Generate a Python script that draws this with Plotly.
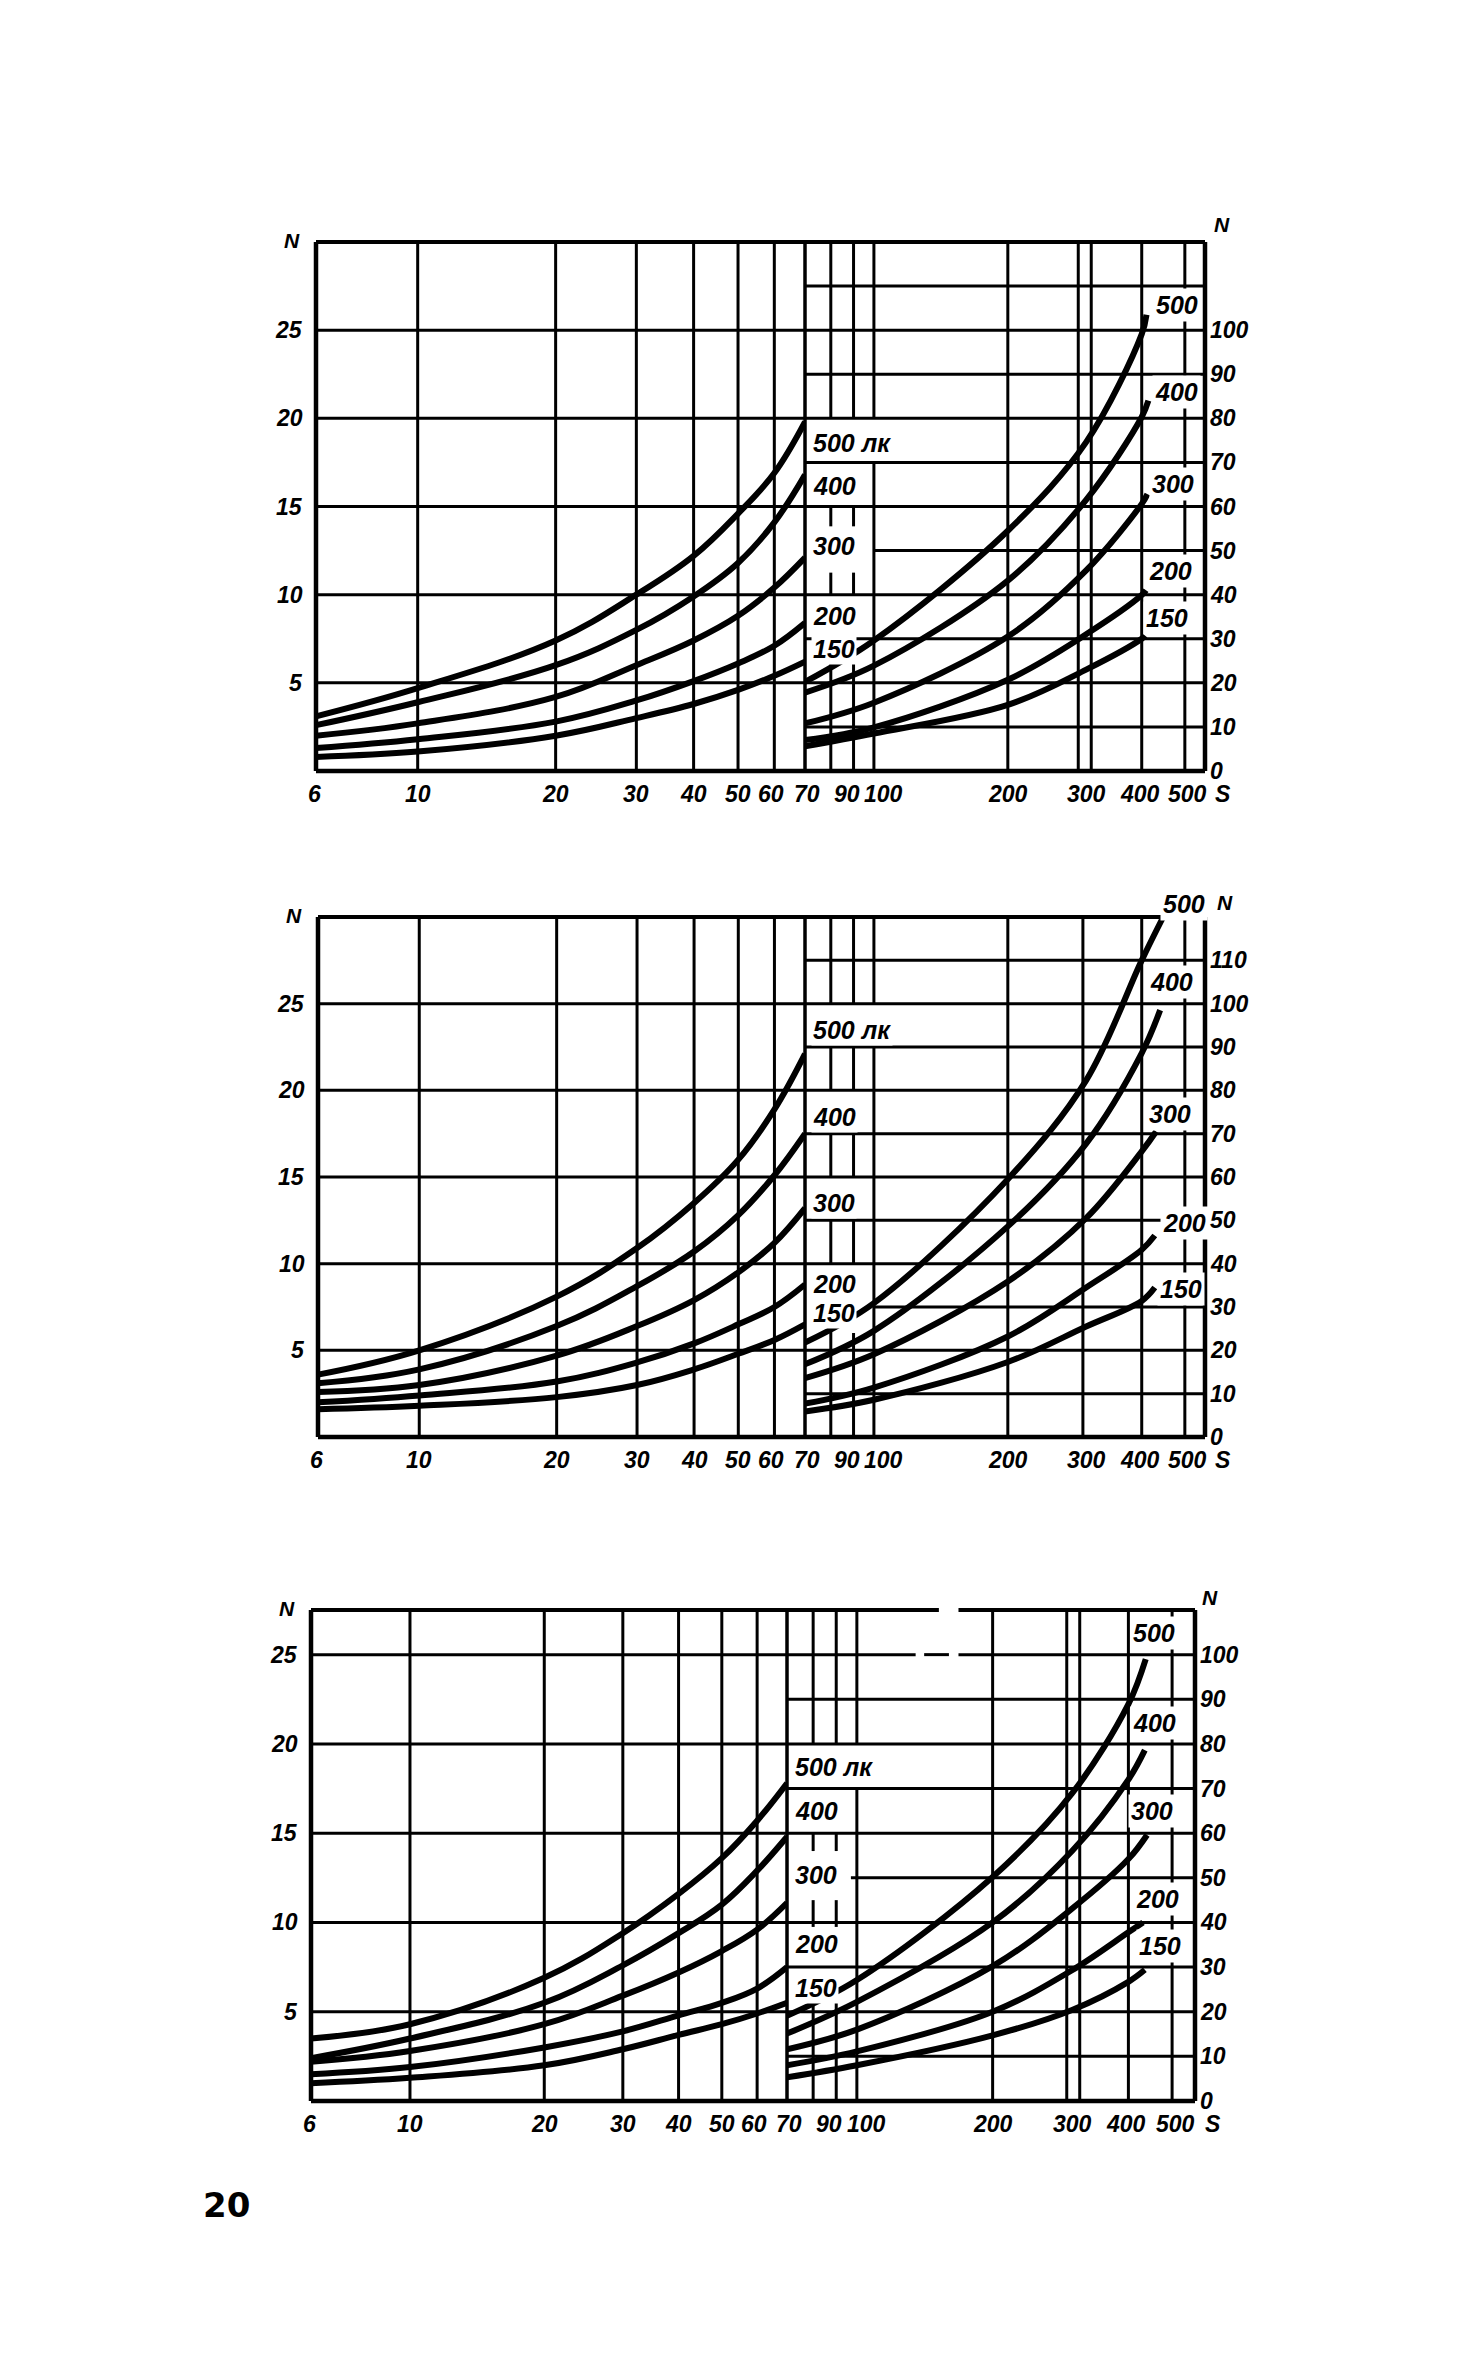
import math
import plotly.graph_objects as go

W, H = 1477, 2363
PAD = 14

# ---------------- data ----------------
LUX = [500, 400, 300, 200, 150]
S_LEFT = [6, 10, 20, 30, 40, 50, 60, 70]
S_RIGHT = [70, 100, 200, 300, 400]

# panel 1
P1_L_500 = [3.1, 4.7, 7.4, 10.0, 12.2, 14.6, 16.9, 19.8]
P1_L_400 = [2.6, 3.9, 6.0, 8.0, 9.9, 11.8, 14.1, 16.8]
P1_L_300 = [2.0, 2.7, 4.2, 6.0, 7.4, 8.8, 10.4, 12.1]
P1_L_200 = [1.3, 1.8, 2.8, 4.0, 5.1, 6.1, 7.1, 8.4]
P1_L_150 = [0.8, 1.1, 2.0, 3.0, 3.8, 4.6, 5.4, 6.2]
P1_R_500 = [20.2, 29.6, 54.5, 74.6, 99.1]
P1_R_400 = [17.8, 23.9, 43.2, 61.5, 80.3]
P1_R_300 = [10.8, 15.5, 30.5, 45.5, 60.6]
P1_R_200 = [7.0, 9.9, 20.7, 31.0, 39.9]
P1_R_150 = [5.6, 8.5, 15.0, 23.0, 30.0]
P1_END_S = [410, 414, 412, 409, 407]
P1_END_N = [103.5, 84.0, 62.8, 41.0, 30.7]

# panel 2
P2_L_500 = [3.6, 5.0, 8.1, 10.9, 13.5, 16.0, 18.9, 22.1]
P2_L_400 = [3.1, 3.9, 6.4, 8.7, 10.7, 12.8, 15.1, 17.5]
P2_L_300 = [2.6, 3.0, 4.7, 6.4, 7.9, 9.5, 11.2, 13.2]
P2_L_200 = [2.0, 2.4, 3.2, 4.3, 5.4, 6.5, 7.5, 8.8]
P2_L_150 = [1.6, 1.8, 2.3, 3.0, 3.9, 4.8, 5.6, 6.5]
P2_R_500 = [21.8, 30.9, 59.5, 82.3, 110.0]
P2_R_400 = [16.8, 24.5, 48.6, 67.7, 88.6]
P2_R_300 = [13.6, 19.1, 35.9, 50.5, 65.9]
P2_R_200 = [7.7, 11.4, 23.2, 34.5, 43.2]
P2_R_150 = [5.9, 8.6, 17.3, 25.5, 31.4]
P2_END_S = [447, 440, 431, 428, 428]
P2_END_N = [120.0, 98.5, 70.5, 46.5, 34.5]

# panel 3
P3_L_500 = [3.5, 4.3, 6.9, 9.4, 11.6, 13.6, 15.7, 17.8]
P3_L_400 = [2.4, 3.5, 5.5, 7.6, 9.4, 11.0, 12.9, 14.8]
P3_L_300 = [2.2, 2.8, 4.3, 5.9, 7.2, 8.4, 9.6, 11.1]
P3_L_200 = [1.5, 1.9, 3.0, 3.9, 4.8, 5.5, 6.3, 7.5]
P3_L_150 = [1.0, 1.3, 2.0, 2.9, 3.7, 4.3, 4.9, 5.5]
P3_R_500 = [19.1, 27.1, 50.2, 68.9, 88.9]
P3_R_400 = [15.1, 22.2, 40.0, 56.0, 72.0]
P3_R_300 = [11.6, 16.0, 30.2, 43.1, 54.2]
P3_R_200 = [8.0, 11.1, 20.0, 29.3, 37.8]
P3_R_150 = [5.3, 8.0, 14.7, 20.4, 26.7]
P3_END_S = [437, 435, 440, 431, 435]
P3_END_N = [99.0, 78.6, 59.6, 40.0, 29.4]

# tick labels
X_TICKS_LEFT = [6, 10, 20, 30, 40, 50, 60]
X_TICKS_RIGHT = [70, 90, 100, 200, 300, 400, 500]
Y_TICKS_LEFT = [5, 10, 15, 20, 25]
P1_Y_TICKS_RIGHT = [0, 10, 20, 30, 40, 50, 60, 70, 80, 90, 100]
P2_Y_TICKS_RIGHT = [0, 10, 20, 30, 40, 50, 60, 70, 80, 90, 100, 110]
P3_Y_TICKS_RIGHT = [0, 10, 20, 30, 40, 50, 60, 70, 80, 90, 100]
GRID_LEFT_X = [10, 20, 30, 40, 50, 60]
GRID_LEFT_Y = [5, 10, 15, 20, 25]
P1_GRID_RIGHT_X = [80, 90, 100, 200, 288, 308, 400, 500]
P2_GRID_RIGHT_X = [80, 90, 100, 200, 295, 400, 500]
P3_GRID_RIGHT_X = [80, 90, 100, 200, 292, 312, 400, 500]

# ---------------- layout spec (pixel geometry of each panel) ----------------
FONT = "Liberation Sans Narrow, Liberation Sans, Arial, sans-serif"
TICK_SIZE = 23
LABEL_SIZE = 25
TICK_XSHIFT = {6: -2, 60: -3, 70: 2, 90: -7, 100: 10, 400: -2, 500: 3}
LUX_WORD = "\u00a0лк"

PANELS = [
    dict(xl=308, xm=797, xr=1197, yt=234, yb=763, topL=30, smax=555,
         L=[P1_L_500, P1_L_400, P1_L_300, P1_L_200, P1_L_150],
         R=[P1_R_500, P1_R_400, P1_R_300, P1_R_200, P1_R_150],
         ES=P1_END_S, EN=P1_END_N, gridx=P1_GRID_RIGHT_X, yticksR=P1_Y_TICKS_RIGHT,
         vseg={80: [(0, 25), (40, 45), (55.5, 60), (80, 120)],
               90: [(0, 25), (40, 45), (55.5, 60), (80, 120)],
               100: [(0, 70), (80, 120)]},
         hseg={50: [(100, None)]},
         topseg=[(70, None)],
         mid=[(74.4, True), (64.6, False), (51.0, False), (35.2, False), (27.6, False)],
         rlab=[(479, 105.6), (480, 86.0), (470, 65.0), (465, 45.3), (455, 34.6)],
         nR=(17, 18)),
    dict(xl=310, xm=797, xr=1197, yt=909, yb=1429, topL=30, smax=555,
         L=[P2_L_500, P2_L_400, P2_L_300, P2_L_200, P2_L_150],
         R=[P2_R_500, P2_R_400, P2_R_300, P2_R_200, P2_R_150],
         ES=P2_END_S, EN=P2_END_N, gridx=P2_GRID_RIGHT_X, yticksR=P2_Y_TICKS_RIGHT,
         vseg={80: [(0, 25), (40, 50), (60, 70), (80, 90), (100, 120)],
               90: [(0, 24), (40, 50), (60, 70), (80, 90), (100, 120)],
               100: [(0, 90), (100, 120)]},
         hseg={30: [(100, None)]},
         topseg=[(70, 447)],
         mid=[(94.0, True), (73.8, False), (54.0, False), (35.4, False), (28.6, False)],
         rlab=[(497, 123.0), (467, 105.0), (462, 74.5), (498, 49.3), (490, 34.2)],
         nR=(20, 15)),
    dict(xl=303, xm=779, xr=1187, yt=1602, yb=2093, topL=27.5, smax=562,
         L=[P3_L_500, P3_L_400, P3_L_300, P3_L_200, P3_L_150],
         R=[P3_R_500, P3_R_400, P3_R_300, P3_R_200, P3_R_150],
         ES=P3_END_S, EN=P3_END_N, gridx=P3_GRID_RIGHT_X, yticksR=P3_Y_TICKS_RIGHT,
         vseg={80: [(0, 23), (39, 45), (56, 60), (80, 110)],
               90: [(0, 24), (39, 45), (56, 60), (80, 110)],
               100: [(0, 70), (80, 110)]},
         hseg={50: [(97, None)], 100: [(70, 135), (141, 160), (168, None)]},
         topseg=[(70, 152), (168, None)],
         mid=[(74.8, True), (64.9, False), (50.7, False), (35.1, False), (25.3, False)],
         rlab=[(456, 104.9), (456, 84.6), (452, 64.9), (465, 45.3), (470, 34.8)],
         nR=(15, 13)),
]

fig = go.Figure()
layout = dict(width=W, height=H, margin=dict(l=0, r=0, t=0, b=0),
              paper_bgcolor="white", plot_bgcolor="rgba(0,0,0,0)", showlegend=False)
shapes = []
annotations = []


def tfont(size=TICK_SIZE, bold=True, italic=True):
    return dict(family=FONT, size=size, color="black",
                weight="bold" if bold else "normal",
                style="italic" if italic else "normal")


def seg(shp, xr, yr, x0, y0, x1, y1, w):
    shp.append(dict(type="line", xref=xr, yref=yr, x0=x0, y0=y0, x1=x1, y1=y1,
                    layer="below", line=dict(color="black", width=w)))


L6, L70 = math.log10(6), math.log10(70)
for i, p in enumerate(PANELS):
    iL, iR = 2 * i + 1, 2 * i + 2
    xa_L, ya_L = f"x{iL}", f"y{iL}"
    xa_R, ya_R = f"x{iR}", f"y{iR}"
    topL, topR = p["topL"], 4 * p["topL"]
    lmax = math.log10(p["smax"])
    ppd_l = (p["xm"] - p["xl"]) / (L70 - L6)
    ppd_r = (p["xr"] - p["xm"]) / (lmax - L70)
    ppu = (p["yb"] - p["yt"]) / topL
    ydom = [1 - (p["yb"] + PAD) / H, 1 - (p["yt"] - PAD) / H]
    layout[f"xaxis{iL}"] = dict(type="log", range=[L6 - PAD / ppd_l, L70],
                                domain=[(p["xl"] - PAD) / W, p["xm"] / W],
                                visible=False, anchor=ya_L, fixedrange=True)
    layout[f"yaxis{iL}"] = dict(range=[-PAD / ppu, topL + PAD / ppu], domain=ydom,
                                visible=False, anchor=xa_L, fixedrange=True)
    layout[f"xaxis{iR}"] = dict(type="log", range=[L70, lmax + PAD / ppd_r],
                                domain=[p["xm"] / W, (p["xr"] + PAD) / W],
                                visible=False, anchor=ya_R, fixedrange=True)
    layout[f"yaxis{iR}"] = dict(range=[-4 * PAD / ppu, topR + 4 * PAD / ppu], domain=ydom,
                                visible=False, anchor=xa_R, fixedrange=True)

    # ---- left grid & frame
    for gx in GRID_LEFT_X:
        seg(shapes, xa_L, ya_L, gx, 0, gx, topL, 3)
    for gy in GRID_LEFT_Y:
        seg(shapes, xa_L, ya_L, 6, gy, 70, gy, 3)
    seg(shapes, xa_L, ya_L, 6, 0, 6, topL, 4.5)
    seg(shapes, xa_L, ya_L, 6, 0, 70, 0, 4.5)
    seg(shapes, xa_L, ya_L, 6, topL, 70, topL, 4)
    seg(shapes, xa_L, ya_L, 70, 0, 70, topL, 3.5)

    # ---- right grid & frame
    smax = p["smax"]
    for gx in p["gridx"]:
        for (a, b) in p["vseg"].get(gx, [(0, topR)]):
            seg(shapes, xa_R, ya_R, gx, a, gx, b, 3)
    for gy in range(10, int(topR), 10):
        for (a, b) in p["hseg"].get(gy, [(70, None)]):
            seg(shapes, xa_R, ya_R, a, gy, smax if b is None else b, gy, 3)
    seg(shapes, xa_R, ya_R, 70, 0, 70, topR, 3.5)
    seg(shapes, xa_R, ya_R, 70, 0, smax, 0, 4.5)
    seg(shapes, xa_R, ya_R, smax, 0, smax, topR, 4.5)
    for (a, b) in p["topseg"]:
        seg(shapes, xa_R, ya_R, a, topR, smax if b is None else b, topR, 4)

    # ---- curves
    for k, lux in enumerate(LUX):
        fig.add_trace(go.Scatter(x=S_LEFT, y=p["L"][k], mode="lines", xaxis=xa_L, yaxis=ya_L,
                                 line=dict(color="black", width=6, shape="spline", smoothing=1.1),
                                 hoverinfo="skip", name=f"{lux} лк"))
        fig.add_trace(go.Scatter(x=S_RIGHT + [p["ES"][k]], y=p["R"][k] + [p["EN"][k]],
                                 mode="lines", xaxis=xa_R, yaxis=ya_R,
                                 line=dict(color="black", width=6, shape="spline", smoothing=1.0),
                                 hoverinfo="skip", name=f"{lux} лк"))

    # ---- tick labels
    for t in X_TICKS_LEFT:
        annotations.append(dict(xref=xa_L, yref=ya_L, x=math.log10(t), y=0, yshift=-23,
                                xshift=TICK_XSHIFT.get(t, 0),
                                text=str(t), showarrow=False, font=tfont(),
                                xanchor="center", yanchor="middle"))
    for t in X_TICKS_RIGHT:
        annotations.append(dict(xref=xa_R, yref=ya_R, x=math.log10(t), y=0, yshift=-23,
                                xshift=TICK_XSHIFT.get(t, 0),
                                text=str(t), showarrow=False, font=tfont(),
                                xanchor="center", yanchor="middle"))
    annotations.append(dict(xref=xa_R, yref=ya_R, x=lmax, y=0, xshift=18, yshift=-23,
                            text="S", showarrow=False, font=tfont(),
                            xanchor="center", yanchor="middle"))
    for t in Y_TICKS_LEFT:
        annotations.append(dict(xref=xa_L, yref=ya_L, x=L6, y=t, xshift=-11,
                                text=str(t), showarrow=False, font=tfont(),
                                xanchor="right", yanchor="middle"))
    for t in p["yticksR"]:
        annotations.append(dict(xref=xa_R, yref=ya_R, x=lmax, y=t, xshift=3,
                                text=str(t), showarrow=False, font=tfont(),
                                xanchor="left", yanchor="middle"))
    annotations.append(dict(xref=xa_L, yref=ya_L, x=L6, y=topL, xshift=-24, yshift=2,
                            text="N", showarrow=False, font=tfont(21),
                            xanchor="center", yanchor="middle"))
    annotations.append(dict(xref=xa_R, yref=ya_R, x=lmax, y=topR, xshift=p["nR"][0],
                            yshift=p["nR"][1], text="N", showarrow=False, font=tfont(21),
                            xanchor="center", yanchor="middle"))

    # ---- curve labels (illuminance in lux)
    for k, (yv, with_unit) in enumerate(p["mid"]):
        annotations.append(dict(xref=xa_R, yref=ya_R, x=L70, y=yv, xshift=6,
                                text=str(LUX[k]) + (LUX_WORD if with_unit else ""),
                                showarrow=False, font=tfont(LABEL_SIZE),
                                xanchor="left", yanchor="middle",
                                bgcolor="white", borderpad=1))
    for k, (xv, yv) in enumerate(p["rlab"]):
        annotations.append(dict(xref=xa_R, yref=ya_R, x=math.log10(xv), y=yv,
                                text=str(LUX[k]), showarrow=False, font=tfont(LABEL_SIZE),
                                xanchor="center", yanchor="middle",
                                bgcolor="white", borderpad=2))

# page number
annotations.append(dict(xref="paper", yref="paper", x=218 / W, y=1 - 2197 / H,
                        text="20", showarrow=False,
                        font=dict(family="DejaVu Sans, sans-serif", size=34, color="black",
                                  weight="bold"),
                        xanchor="center", yanchor="middle"))

layout["shapes"] = shapes
layout["annotations"] = annotations
fig.update_layout(**layout)
fig.write_html("out.html")
